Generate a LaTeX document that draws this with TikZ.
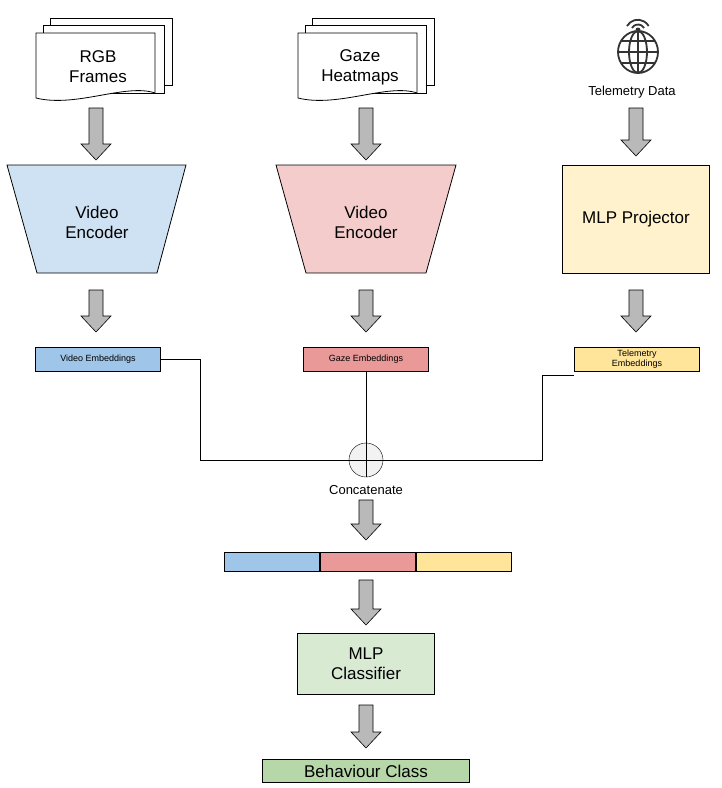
\documentclass[tikz,border=0pt]{standalone}
\usepackage{fontspec}
\setmainfont{Liberation Sans}
\usetikzlibrary{positioning}

\definecolor{vblue}{HTML}{CFE2F3}
\definecolor{gpink}{HTML}{F4CCCC}
\definecolor{tyel}{HTML}{FFF2CC}
\definecolor{eblue}{HTML}{9FC5E8}
\definecolor{ered}{HTML}{EA9999}
\definecolor{eyel}{HTML}{FFE599}
\definecolor{cgreen}{HTML}{D9EAD3}
\definecolor{ogreen}{HTML}{B6D7A8}

\tikzset{
  big/.style={font=\fontsize{17}{20}\selectfont, align=center},
  small/.style={font=\fontsize{9}{10}\selectfont, align=center},
  emb/.style={draw, thick, minimum width=125pt, minimum height=24pt, inner sep=0pt, small},
  blk/.style={draw, fill=gray!55, line width=0.6pt},
  wire/.style={draw=black, line width=0.8pt}
}
% block arrow: x, top y, bottom y
\newcommand{\blockarrow}[3]{%
  \draw[blk] (#1-7,#2) -- (#1+7,#2) -- (#1+7,#3-16) -- (#1+15,#3-16) -- (#1,#3)
    -- (#1-15,#3-16) -- (#1-7,#3-16) -- cycle;}
% stack of pages, left x, top y
\newcommand{\pagestack}[2]{%
  \draw[fill=white, thick] (#1+14,#2-15) rectangle (#1+136,#2+52);
  \draw[fill=white, thick] (#1+7,#2-8) rectangle (#1+128,#2+60);
  \draw[fill=white, thick] (#1,#2) -- (#1+119,#2) -- (#1+119,#2+60)
    .. controls (#1+90,#2+50) and (#1+40,#2+75) .. (#1,#2+65) -- cycle;}

\begin{document}
\begin{tikzpicture}[x=1pt, y=-1pt]
  \useasboundingbox (0,0) rectangle (721,788);

  % inputs
  \pagestack{36}{33}
  \node[big] (rgb) at (98,67) {RGB\\Frames};
  \pagestack{298}{33}
  \node[big] (gaze) at (360,67) {Gaze\\Heatmaps};

  % globe icon
  \begin{scope}[line width=1.8pt, black!80]
    \draw (638,52) ellipse (20 and 21);
    \draw (638,52) ellipse (9 and 21);
    \draw (638,31) -- (638,73);
    \draw (618,52) -- (658,52);
    \draw (621,41) -- (655,41);
    \draw (621,63) -- (655,63);
    \draw (632,28) arc[start angle=210, end angle=330, radius=7];
    \draw (627,26) arc[start angle=210, end angle=330, radius=12.5];
    \fill (638,30) circle (2.5);
  \end{scope}
  \node[font=\fontsize{13}{15}\selectfont] (tel) at (632,92) {Telemetry Data};

  \blockarrow{96}{108}{160}
  \blockarrow{366}{108}{160}
  \blockarrow{636}{108}{156}

  % encoders
  \draw[fill=vblue, thick] (7,165) -- (186,165) -- (157,273) -- (37,273) -- cycle;
  \node[big] (venc) at (97,222) {Video\\Encoder};
  \draw[fill=gpink, thick] (276,165) -- (456,165) -- (426,273) -- (306,273) -- cycle;
  \node[big] (genc) at (366,222) {Video\\Encoder};
  \node[draw, thick, fill=tyel, minimum width=147pt, minimum height=108pt, big]
    (mlpp) at (636,219) {MLP Projector};

  \blockarrow{96}{290}{332}
  \blockarrow{366}{290}{332}
  \blockarrow{636}{290}{332}

  % embeddings
  \node[emb, fill=eblue] (vemb) at (98,359) {Video Embeddings};
  \node[emb, fill=ered] (gemb) at (366,359) {Gaze Embeddings};
  \node[emb, fill=eyel] (temb) at (637,359) {Telemetry\\Embeddings};

  % concatenation
  \node[draw, circle, fill=gray!10, minimum size=34pt, inner sep=0pt] (cat) at (366,460) {};
  \draw (cat.north) -- (cat.south);
  \draw (cat.west) -- (cat.east);
  \node[font=\fontsize{13}{15}\selectfont] (catlbl) at (366,490) {Concatenate};
  \draw[wire] (vemb.east) -- (200,359) -- (200,460) -- (cat.west);
  \draw[wire] (gemb.south) -- (cat.north);
  \draw[wire] (temb.west |- 0,375) -- (542,375) -- (542,460) -- (cat.east);

  \blockarrow{366}{500}{540}

  \node[draw, thick, fill=eblue, minimum width=95pt, minimum height=19pt] (b1) at (272,562) {};
  \node[draw, thick, fill=ered, minimum width=95pt, minimum height=19pt, right=0pt of b1] (b2) {};
  \node[draw, thick, fill=eyel, minimum width=95pt, minimum height=19pt, right=0pt of b2] (b3) {};

  \blockarrow{366}{580}{625}

  \node[draw, thick, fill=cgreen, minimum width=137pt, minimum height=61pt, big]
    (mlpc) at (366,664) {MLP\\Classifier};

  \blockarrow{366}{705}{748}

  \node[draw, thick, fill=ogreen, minimum width=207pt, minimum height=23pt, big]
    (out) at (366,771) {Behaviour Class};
\end{tikzpicture}
\end{document}
